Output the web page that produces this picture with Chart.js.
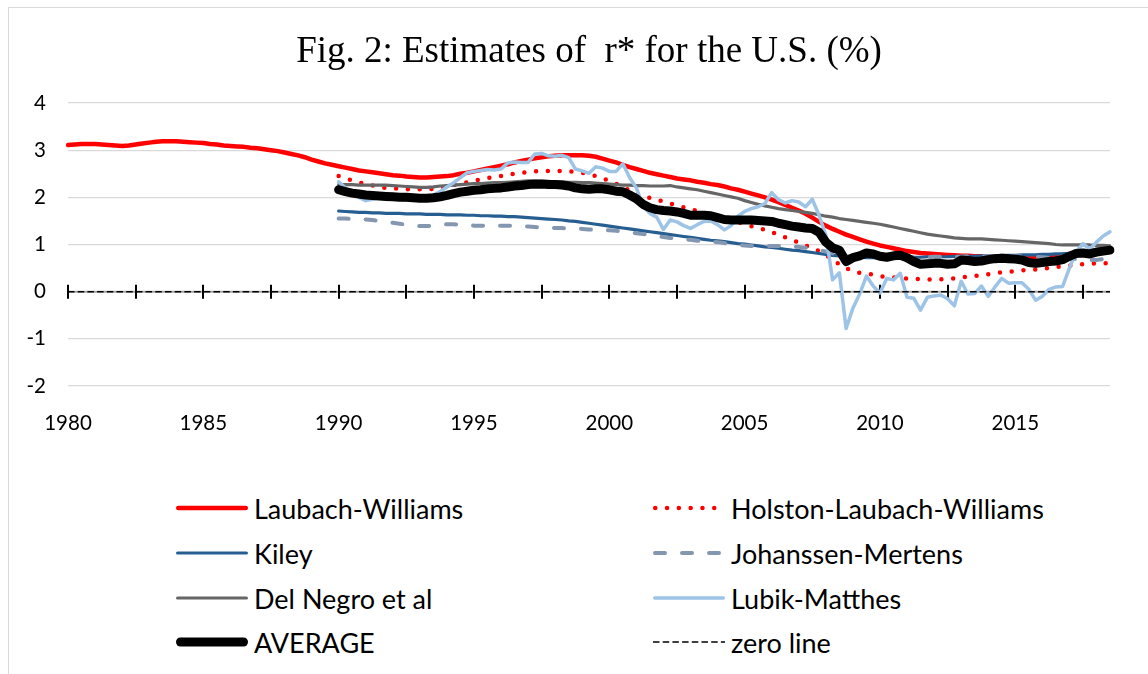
<!DOCTYPE html>
<html>
<head>
<meta charset="utf-8">
<title>Estimates of r* for the U.S.</title>
<script src="https://cdn.jsdelivr.net/npm/chart.js@4.4.1/dist/chart.umd.min.js"></script>
<style>
  html, body { margin: 0; padding: 0; background: #fff; }
  #frame { position: absolute; left: 8px; top: 7px; width: 1140px; height: 667px;
           border-top: 1px solid #d9d9d9; border-left: 1px solid #d9d9d9; }
  #chart-box { position: absolute; left: 0; top: 0; width: 1148px; height: 440px; }
  #legend { position: absolute; left: 0; top: 0; font-family: Lato, sans-serif; font-size: 27px; color: #000; }
  .item { position: absolute; height: 40px; display: flex; align-items: center; white-space: nowrap; }
  .item svg { margin-right: 6px; overflow: visible; }
</style>
</head>
<body>
<div id="frame"></div>
<div id="chart-box"><canvas id="chart" width="1148" height="440"></canvas></div>
<div id="legend"></div>
<script>
// quarterly, 1980Q1 .. 2018Q3
const firstYear = 1980;
const lastYear = 2018;
const lastQuarter = 3;
const quarters = [];
for (let y = firstYear; y <= lastYear; y++) {
    for (let q = 1; q <= 4; q++) {
        if (y === lastYear && q > lastQuarter) break;
        quarters.push(y + 'Q' + q);
    }
}
const yearLabels = ['1980', '1985', '1990', '1995', '2000', '2005', '2010', '2015'];
const tickEvery = 10; // quarters between axis tick marks
const yTicks = { min: -2, max: 4, step: 1 };

// Laubach-Williams starts 1980Q1
const laubachWilliams = [
    3.11, 3.12, 3.13, 3.13,  3.13, 3.12, 3.11, 3.10,  3.09, 3.10, 3.12, 3.14,
    3.16, 3.18, 3.19, 3.19,  3.19, 3.18, 3.17, 3.16,  3.15, 3.13, 3.12, 3.10,
    3.09, 3.08, 3.07, 3.05,  3.04, 3.02, 3.00, 2.98,  2.95, 2.92, 2.89, 2.85,
    2.80, 2.76, 2.72, 2.69,  2.66, 2.63, 2.60, 2.57,  2.55, 2.53, 2.51, 2.49,
    2.47, 2.46, 2.44, 2.43,  2.42, 2.42, 2.43, 2.44,  2.45, 2.47, 2.50, 2.52,
    2.55, 2.58, 2.61, 2.64,  2.67, 2.70, 2.74, 2.77,  2.80, 2.83, 2.85, 2.87,
    2.88, 2.89, 2.89, 2.89,  2.89, 2.88, 2.86, 2.82,  2.78, 2.74, 2.69, 2.64,
    2.60, 2.56, 2.52, 2.49,  2.46, 2.43, 2.40, 2.38,  2.36, 2.33, 2.31, 2.28,
    2.26, 2.23, 2.19, 2.16,  2.12, 2.08, 2.04, 2.00,  1.95, 1.90, 1.84, 1.78,
    1.72, 1.65, 1.57, 1.48,  1.40, 1.33, 1.27, 1.21,  1.16, 1.11, 1.06, 1.02,
    0.98, 0.95, 0.92, 0.89,  0.86, 0.84, 0.82, 0.81,  0.80, 0.79, 0.78, 0.77,
    0.76, 0.76, 0.75, 0.75,  0.74, 0.74, 0.74, 0.73,  0.73, 0.73, 0.72, 0.73,
    0.74, 0.75, 0.76, 0.78,  0.80, 0.82, 0.83, 0.84,  0.86, 0.87, 0.88
];

// the other estimates start 1990Q1
const laterStart = '1990Q1';
const holstonLaubachWilliams = [
    2.45, 2.40, 2.36, 2.32,  2.28, 2.25, 2.22, 2.20,  2.19, 2.18, 2.17, 2.17,
    2.17, 2.17, 2.18, 2.20,  2.23, 2.26, 2.29, 2.32,  2.35, 2.38, 2.41, 2.43,
    2.45, 2.48, 2.50, 2.52,  2.54, 2.55, 2.56, 2.56,  2.56, 2.56, 2.55, 2.54,
    2.52, 2.49, 2.45, 2.40,  2.35, 2.29, 2.22, 2.15,  2.08, 2.03, 1.99, 1.95,
    1.91, 1.87, 1.83, 1.79,  1.75, 1.71, 1.67, 1.64,  1.60, 1.57, 1.53, 1.48,
    1.43, 1.39, 1.35, 1.31,  1.26, 1.21, 1.15, 1.10,  1.04, 0.98, 0.92, 0.86,
    0.78, 0.68, 0.58, 0.50,  0.44, 0.40, 0.38, 0.36,  0.33, 0.31, 0.30, 0.29,
    0.28, 0.27, 0.27, 0.26,  0.26, 0.26, 0.27, 0.28,  0.30, 0.32, 0.33, 0.35,
    0.37, 0.39, 0.41, 0.42,  0.44, 0.45, 0.46, 0.47,  0.49, 0.50, 0.52, 0.54,
    0.55, 0.57, 0.58, 0.59,  0.60, 0.60, 0.61
];
const kiley = [
    1.71, 1.70, 1.69, 1.68,  1.68, 1.67, 1.67, 1.66,  1.66, 1.66, 1.65, 1.65,
    1.65, 1.64, 1.64, 1.64,  1.63, 1.63, 1.63, 1.62,  1.62, 1.61, 1.61, 1.60,
    1.60, 1.59, 1.59, 1.58,  1.57, 1.56, 1.55, 1.54,  1.53, 1.52, 1.50, 1.49,
    1.47, 1.45, 1.43, 1.41,  1.39, 1.37, 1.35, 1.33,  1.31, 1.29, 1.27, 1.25,
    1.23, 1.21, 1.19, 1.17,  1.15, 1.13, 1.11, 1.09,  1.08, 1.06, 1.04, 1.02,
    1.01, 0.99, 0.97, 0.95,  0.94, 0.92, 0.90, 0.88,  0.87, 0.85, 0.83, 0.81,
    0.79, 0.77, 0.76, 0.74,  0.73, 0.73, 0.72, 0.72,  0.72, 0.72, 0.72, 0.73,
    0.73, 0.73, 0.73, 0.74,  0.74, 0.74, 0.74, 0.75,  0.75, 0.75, 0.75, 0.76,
    0.76, 0.76, 0.77, 0.77,  0.77, 0.78, 0.78, 0.78,  0.79, 0.79, 0.80, 0.80,
    0.81, 0.82, 0.83, 0.84,  0.85, 0.86, 0.87
];
const johannsenMertens = [
    1.55, 1.55, 1.54, 1.54,  1.53, 1.52, 1.50, 1.48,  1.46, 1.44, 1.42, 1.40,
    1.39, 1.39, 1.40, 1.42,  1.43, 1.43, 1.42, 1.41,  1.40, 1.40, 1.40, 1.40,
    1.40, 1.40, 1.40, 1.39,  1.38, 1.37, 1.36, 1.36,  1.35, 1.35, 1.34, 1.34,
    1.33, 1.32, 1.31, 1.31,  1.30, 1.29, 1.28, 1.26,  1.24, 1.22, 1.20, 1.18,
    1.16, 1.14, 1.12, 1.11,  1.10, 1.08, 1.07, 1.06,  1.05, 1.03, 1.01, 0.99,
    0.98, 0.97, 0.97, 0.97,  0.97, 0.97, 0.96, 0.96,  0.95, 0.93, 0.91, 0.88,
    0.85, 0.81, 0.78, 0.76,  0.75, 0.74, 0.74, 0.73,  0.73, 0.73, 0.73, 0.73,
    0.73, 0.73, 0.73, 0.73,  0.74, 0.74, 0.74, 0.74,  0.74, 0.75, 0.75, 0.75,
    0.75, 0.75, 0.75, 0.75,  0.75, 0.75, 0.74, 0.74,  0.73, 0.72, 0.72, 0.71,
    0.70, 0.69, 0.68, 0.67,  0.67, 0.69, 0.71
];
const delNegro = [
    2.27, 2.27, 2.27, 2.26,  2.26, 2.26, 2.26, 2.26,  2.25, 2.24, 2.23, 2.22,
    2.21, 2.21, 2.22, 2.24,  2.25, 2.26, 2.27, 2.28,  2.29, 2.29, 2.30, 2.31,
    2.31, 2.32, 2.33, 2.34,  2.35, 2.35, 2.35, 2.34,  2.33, 2.33, 2.32, 2.32,
    2.31, 2.31, 2.30, 2.29,  2.28, 2.27, 2.26, 2.26,  2.25, 2.25, 2.24, 2.24,
    2.24, 2.25, 2.22, 2.20,  2.18, 2.16, 2.13, 2.10,  2.07, 2.04, 2.01, 1.98,
    1.93, 1.89, 1.85, 1.82,  1.79, 1.76, 1.74, 1.72,  1.70, 1.68, 1.66, 1.63,
    1.60, 1.58, 1.55, 1.53,  1.51, 1.49, 1.47, 1.45,  1.43, 1.40, 1.37, 1.34,
    1.31, 1.28, 1.25, 1.22,  1.20, 1.18, 1.16, 1.14,  1.13, 1.12, 1.12, 1.12,
    1.11, 1.10, 1.09, 1.08,  1.07, 1.06, 1.05, 1.04,  1.03, 1.02, 1.00, 0.99,
    0.99, 0.99, 0.99, 0.99,  0.98, 0.98, 0.97
];
const lubikMatthes = [
    2.33, 2.20, 2.08, 2.00,  1.93, 1.96, 1.99, 2.00,  1.98, 1.96, 1.95, 1.96,
    1.97, 2.00, 2.05, 2.12,  2.22, 2.31, 2.42, 2.52,  2.55, 2.57, 2.59, 2.58,
    2.60, 2.73, 2.75, 2.74,  2.74, 2.92, 2.93, 2.88,  2.87, 2.89, 2.84, 2.60,
    2.56, 2.51, 2.65, 2.62,  2.55, 2.55, 2.71, 2.42,  2.20, 1.80, 1.66, 1.58,
    1.32, 1.52, 1.48, 1.40,  1.34, 1.42, 1.49, 1.50,  1.42, 1.31, 1.40, 1.60,
    1.70, 1.76, 1.80, 1.87,  2.10, 1.95, 1.88, 1.93,  1.90, 1.80, 1.96, 1.62,
    1.20, 0.25, 0.40, -0.78, -0.35, -0.05, 0.33, 0.12, -0.03, 0.28, 0.25, 0.39,
    -0.12, -0.14, -0.39, -0.12, -0.09, -0.07, -0.15, -0.30, 0.22, -0.05, -0.04, 0.12,
    -0.10, 0.10, 0.28, 0.18,  0.19, 0.19, 0.05, -0.18, -0.10, 0.05, 0.10, 0.11,
    0.50, 0.85, 1.02, 0.90,  1.05, 1.18, 1.27
];
const average = [
    2.16, 2.12, 2.09, 2.07,  2.05, 2.04, 2.03, 2.02,  2.01, 2.00, 2.00, 1.99,
    1.98, 1.98, 1.99, 2.01,  2.04, 2.08, 2.11, 2.13,  2.15, 2.16, 2.18, 2.19,
    2.20, 2.22, 2.24, 2.25,  2.27, 2.28, 2.28, 2.27,  2.27, 2.26, 2.24, 2.20,
    2.18, 2.17, 2.18, 2.18,  2.16, 2.13, 2.12, 2.05,  1.97, 1.85, 1.78, 1.74,
    1.72, 1.71, 1.69, 1.66,  1.62, 1.62, 1.62, 1.61,  1.57, 1.53, 1.52, 1.52,
    1.52, 1.52, 1.51, 1.50,  1.49, 1.45, 1.42, 1.39,  1.37, 1.35, 1.34, 1.26,
    1.05, 0.93, 0.88, 0.64,  0.72, 0.76, 0.82, 0.80,  0.75, 0.73, 0.76, 0.77,
    0.72, 0.64, 0.58, 0.59,  0.60, 0.60, 0.58, 0.59,  0.67, 0.66, 0.64, 0.65,
    0.68, 0.70, 0.71, 0.70,  0.69, 0.67, 0.62, 0.60,  0.62, 0.64, 0.65, 0.68,
    0.75, 0.81, 0.82, 0.80,  0.84, 0.86, 0.88
];
const zeroLine = [0, 0]; // first and last quarter

const offset = quarters.indexOf(laterStart);
const fromLater = values => new Array(offset).fill(null).concat(values);

const axisFont = { family: 'Lato', size: 20.5 };

const axisMarks = {
    id: 'axisMarks',
    beforeDatasetsDraw(chart) {
        const { ctx, chartArea, scales: { x, y } } = chart;
        const y0 = y.getPixelForValue(0);
        ctx.save();
        ctx.strokeStyle = '#a6a6a6';
        ctx.lineWidth = 2;
        ctx.beginPath();
        ctx.moveTo(chartArea.left, y0);
        ctx.lineTo(chartArea.right, y0);
        ctx.stroke();
        ctx.strokeStyle = '#000';
        ctx.lineWidth = 2;
        for (let i = 0; i < quarters.length; i += tickEvery) {
            const px = Math.round(x.getPixelForValue(i));
            ctx.beginPath();
            ctx.moveTo(px, y0 - 7);
            ctx.lineTo(px, y0 + 7);
            ctx.stroke();
        }
        ctx.restore();
    }
};

const chart = new Chart(document.getElementById('chart'), {
    type: 'line',
    data: {
        labels: quarters,
        datasets: [{
            label: 'Laubach-Williams',
            data: laubachWilliams,
            borderColor: '#ff0000', borderWidth: 4.5, borderCapStyle: 'round', order: 8
        }, {
            label: 'Holston-Laubach-Williams',
            data: fromLater(holstonLaubachWilliams),
            borderColor: '#ff0000', borderWidth: 4.5, borderDash: [0, 11.8], borderCapStyle: 'round', order: 7
        }, {
            label: 'Kiley',
            data: fromLater(kiley),
            borderColor: '#265e91', borderWidth: 3.2, borderCapStyle: 'round', order: 6
        }, {
            label: 'Johanssen-Mertens',
            data: fromLater(johannsenMertens),
            borderColor: '#8497b0', borderWidth: 4, borderDash: [10, 17], borderCapStyle: 'round', order: 5
        }, {
            label: 'Del Negro et al',
            data: fromLater(delNegro),
            borderColor: '#666666', borderWidth: 3.2, borderCapStyle: 'round', order: 4
        }, {
            label: 'Lubik-Matthes',
            data: fromLater(lubikMatthes),
            borderColor: '#9dc3e6', borderWidth: 3.5, borderCapStyle: 'round', order: 3
        }, {
            label: 'AVERAGE',
            data: fromLater(average),
            borderColor: '#000000', borderWidth: 9, borderCapStyle: 'round', order: 2
        }, {
            label: 'zero line',
            data: [{ x: quarters[0], y: zeroLine[0] }, { x: quarters[quarters.length - 1], y: zeroLine[1] }],
            borderColor: '#000000', borderWidth: 1.5, borderDash: [6.5, 3.2], order: 1
        }]
    },
    options: {
        responsive: false,
        animation: false,
        events: [],
        elements: {
            point: { radius: 0 },
            line: { tension: 0, borderJoinStyle: 'round', fill: false }
        },
        layout: { padding: { top: 8, right: 38, bottom: 0, left: 0 } },
        plugins: {
            legend: { display: false },
            tooltip: { enabled: false },
            title: {
                display: true,
                fullSize: false,
                text: 'Fig. 2: Estimates of  r* for the U.S. (%)',
                color: '#000',
                font: { family: 'Liberation Serif', size: 37, weight: 'normal', lineHeight: 1.2 },
                padding: { top: 22, bottom: 28.6 }
            }
        },
        scales: {
            x: {
                grid: { display: false },
                border: { display: false },
                ticks: {
                    autoSkip: false, maxRotation: 0, minRotation: 0, padding: 17,
                    color: '#000', font: axisFont,
                    callback(value) {
                        const lab = this.getLabelForValue(value);
                        const year = lab.slice(0, 4);
                        return lab.endsWith('Q1') && yearLabels.includes(year) ? year : '';
                    }
                },
                afterFit(scale) { scale.height = 54; }
            },
            y: {
                min: yTicks.min, max: yTicks.max,
                grid: { color: '#d9d9d9', lineWidth: 1.3, drawTicks: false },
                border: { display: false },
                ticks: { stepSize: yTicks.step, padding: 22, color: '#000', font: axisFont },
                afterFit(scale) { scale.width = 68; }
            }
        }
    },
    plugins: [axisMarks]
});

// two-column legend under the plot, built from the datasets
const legendCols = [176, 653];
const legendRows = [488, 533, 578, 622];
const legendEl = document.getElementById('legend');
chart.data.datasets.forEach((ds, i) => {
    const w = 72;
    const cap = ds.borderCapStyle || 'butt';
    const inset = cap === 'round' ? ds.borderWidth / 2 : 0;
    const item = document.createElement('div');
    item.className = 'item';
    item.style.left = legendCols[i % 2] + 'px';
    item.style.top = legendRows[Math.floor(i / 2)] + 'px';
    item.innerHTML = `
        <svg width="${w}" height="16">
          <line x1="${inset}" y1="8" x2="${w - inset}" y2="8" stroke="${ds.borderColor}"
                stroke-width="${ds.borderWidth}" stroke-linecap="${cap}"
                stroke-dasharray="${(ds.borderDash || []).join(' ')}"/>
        </svg><span>${ds.label}</span>`;
    legendEl.appendChild(item);
});
</script>
</body>
</html>
